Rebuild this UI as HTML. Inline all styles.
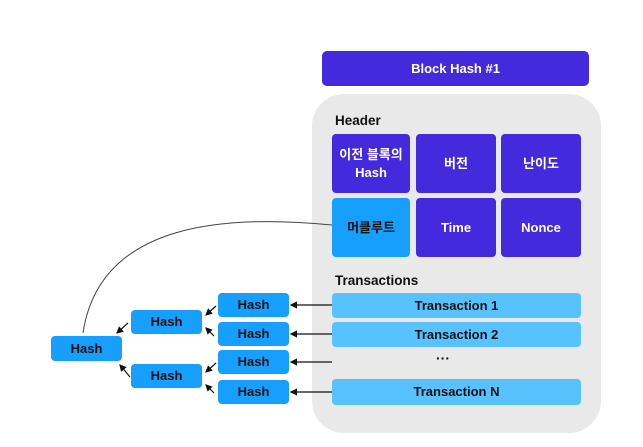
<!DOCTYPE html>
<html><head><meta charset="utf-8"><style>
body{margin:0;width:643px;height:447px;background:#fff;position:relative;overflow:hidden;font-family:"Liberation Sans","Noto Sans CJK KR",sans-serif;font-weight:bold}
.b{position:absolute;display:flex;align-items:center;justify-content:center;text-align:center;border-radius:4px;font-size:13px;line-height:18px}
.p{background:#4429dd;color:#fff}
.c{background:#169ffd;color:#111}
.t{background:#58c1ff;color:#111}
.l{position:absolute;font-size:13.5px;color:#111}
</style></head><body>
<div class="b p" style="left:322px;top:51px;width:267px;height:35px;border-radius:5px">Block Hash #1</div>
<div style="position:absolute;left:312px;top:94px;width:289px;height:339px;background:#e9e9e9;border-radius:32px"></div>
<div class="l" style="left:335px;top:113px">Header</div>
<div class="b p" style="left:332px;top:134px;width:78px;height:59px">이전 블록의<br>Hash</div>
<div class="b p" style="left:416px;top:134px;width:80px;height:59px">버전</div>
<div class="b p" style="left:501px;top:134px;width:80px;height:59px">난이도</div>
<div class="b c" style="left:332px;top:198px;width:78px;height:59px">머클루트</div>
<div class="b p" style="left:416px;top:198px;width:80px;height:59px">Time</div>
<div class="b p" style="left:501px;top:198px;width:80px;height:59px">Nonce</div>
<div class="l" style="left:335px;top:273px">Transactions</div>
<div class="b t" style="left:332px;top:293px;width:249px;height:25px">Transaction 1</div>
<div class="b t" style="left:332px;top:322px;width:249px;height:25px">Transaction 2</div>
<div class="l" style="left:436px;top:350px;font-size:14px">···</div>
<div class="b t" style="left:332px;top:379px;width:249px;height:26px">Transaction N</div>
<div class="b c" style="left:218px;top:293px;width:71px;height:24px">Hash</div>
<div class="b c" style="left:218px;top:322px;width:71px;height:24px">Hash</div>
<div class="b c" style="left:218px;top:350px;width:71px;height:24px">Hash</div>
<div class="b c" style="left:218px;top:380px;width:71px;height:24px">Hash</div>
<div class="b c" style="left:131px;top:310px;width:71px;height:24px">Hash</div>
<div class="b c" style="left:131px;top:364px;width:71px;height:24px">Hash</div>
<div class="b c" style="left:51px;top:336px;width:71px;height:25px">Hash</div>
<svg width="643" height="447" style="position:absolute;left:0;top:0">
<defs><marker id="a" markerWidth="6" markerHeight="6" refX="5" refY="3" orient="auto"><path d="M0,0L6,3L0,6z" fill="#111"/></marker></defs>
<g stroke="#111" stroke-width="1.2" fill="none">
<path d="M332,305H291" marker-end="url(#a)"/>
<path d="M332,334H291" marker-end="url(#a)"/>
<path d="M332,362H291" marker-end="url(#a)"/>
<path d="M332,392H291" marker-end="url(#a)"/>
<path d="M216,306L206,315" marker-end="url(#a)"/>
<path d="M214,336L206,328" marker-end="url(#a)"/>
<path d="M216,363L206,372" marker-end="url(#a)"/>
<path d="M214,393L206,385" marker-end="url(#a)"/>
<path d="M128,323L117,333" marker-end="url(#a)"/>
<path d="M130,377L120,365" marker-end="url(#a)"/>
</g>
<path d="M332,225C230,215 100,220 83,333" stroke="#444" stroke-width="1" fill="none"/>
</svg>
</body></html>
